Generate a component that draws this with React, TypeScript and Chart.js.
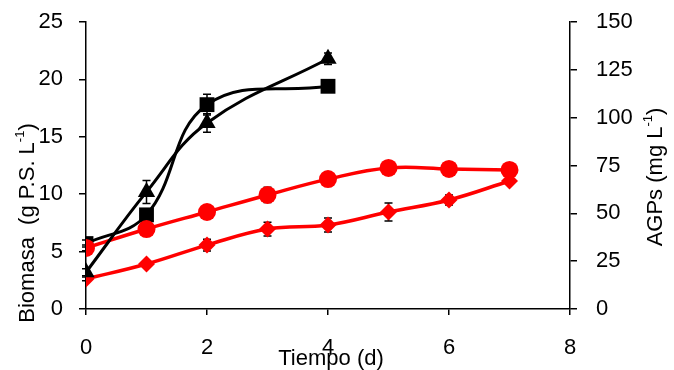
import React, { useEffect, useRef } from 'react';
import { Chart, registerables } from 'chart.js';
Chart.register(...registerables);

// Biomass (left axis, g P.S. L-1)
const squareDays = [0, 1, 2, 4];
const squareValues = [5.7, 8.2, 17.8, 19.4];
const squareErr = [0.3, 0.5, 0.9, 0.4];

const triangleDays = [0, 1, 2, 4];
const triangleValues = [3.2, 10.2, 16.2, 21.8];
const triangleErr = [0.3, 1.0, 0.8, 0.5];

// AGPs (right axis, mg L-1)
const circleDays = [0, 1, 2, 3, 4, 5, 6, 7];
const circleValues = [31.9, 41.8, 50.7, 59.6, 67.9, 73.7, 73.2, 72.7];
const circleErr = [1.5, 1, 1, 4, 1, 1.5, 1.5, 1.5];

const diamondDays = [0, 1, 2, 3, 4, 5, 6, 7];
const diamondValues = [15.7, 23.5, 33.4, 41.8, 43.9, 50.7, 57.0, 66.9];
const diamondErr = [1, 1, 3.1, 3.6, 3.6, 4.7, 2.6, 1];

const xTicks = [0, 2, 4, 6, 8];
const leftTicks = [0, 5, 10, 15, 20, 25];
const rightTicks = [0, 25, 50, 75, 100, 125, 150];

const FONT = '"Liberation Sans", Arial, sans-serif';
const FS = 22;

const pts = (xs: number[], ys: number[]) => xs.map((x, i) => ({ x, y: ys[i] }));

type Part = { t: string; sup?: boolean };

function drawTitle(ctx: CanvasRenderingContext2D, parts: Part[], cx: number, cy: number, rot: number) {
  ctx.save();
  ctx.translate(cx, cy);
  ctx.rotate(rot);
  ctx.fillStyle = '#000';
  ctx.textBaseline = 'middle';
  ctx.textAlign = 'left';
  const supFs = Math.round(FS * 0.6);
  let total = 0;
  const widths = parts.map((p) => {
    ctx.font = `${p.sup ? supFs : FS}px ${FONT}`;
    const w = ctx.measureText(p.t).width;
    total += w;
    return w;
  });
  let x = -total / 2;
  parts.forEach((p, i) => {
    ctx.font = `${p.sup ? supFs : FS}px ${FONT}`;
    ctx.fillText(p.t, x, p.sup ? -FS * 0.35 : 0);
    x += widths[i];
  });
  ctx.restore();
}

const errorBarPlugin = {
  id: 'errorBars',
  beforeDatasetsDraw(chart: any) {
    const ctx = chart.ctx as CanvasRenderingContext2D;
    ctx.save();
    ctx.strokeStyle = '#000';
    ctx.lineWidth = 1.5;
    chart.data.datasets.forEach((ds: any, di: number) => {
      const meta = chart.getDatasetMeta(di);
      const scale = chart.scales[ds.yAxisID];
      const errs: number[] = ds.errors || [];
      meta.data.forEach((el: any, i: number) => {
        const v = ds.data[i].y;
        const e = errs[i] || 0;
        if (!e) return;
        const yTop = scale.getPixelForValue(v + e);
        const yBot = scale.getPixelForValue(v - e);
        const x = el.x;
        ctx.beginPath();
        ctx.moveTo(x, yTop);
        ctx.lineTo(x, yBot);
        ctx.moveTo(x - 4, yTop);
        ctx.lineTo(x + 4, yTop);
        ctx.moveTo(x - 4, yBot);
        ctx.lineTo(x + 4, yBot);
        ctx.stroke();
      });
    });
    ctx.restore();
  },
};

const titlePlugin = {
  id: 'axisTitles',
  afterDraw(chart: any) {
    const ctx = chart.ctx as CanvasRenderingContext2D;
    drawTitle(ctx, [{ t: 'Biomasa  (g P.S. L' }, { t: '-1', sup: true }, { t: ')' }], 28, 223, -Math.PI / 2);
    drawTitle(ctx, [{ t: 'AGPs (mg L' }, { t: '-1', sup: true }, { t: ')' }], 656, 177, -Math.PI / 2);
    drawTitle(ctx, [{ t: 'Tiempo (d)' }], 331, 359, 0);
  },
};

const zeroPad = (s: any) => {
  s.paddingTop = 0;
  s.paddingBottom = 0;
  s.paddingLeft = 0;
  s.paddingRight = 0;
};

export default function App() {
  const ref = useRef<HTMLCanvasElement>(null);
  useEffect(() => {
    const canvas = ref.current!;
    const axisCommon = {
      border: { display: true, color: '#000', width: 1.5 },
      ticks: { color: '#000', font: { family: FONT, size: FS } },
    };
    const chart = new Chart(canvas, {
      type: 'line',
      data: {
        datasets: [
          {
            label: 'triangle',
            data: pts(triangleDays, triangleValues),
            errors: triangleErr,
            yAxisID: 'y',
            borderColor: '#000',
            backgroundColor: '#000',
            borderWidth: 3,
            pointStyle: 'triangle',
            pointRadius: 10,
            pointBorderWidth: 0,
            tension: 0.4,
            order: 0,
          } as any,
          {
            label: 'circle',
            data: pts(circleDays, circleValues),
            errors: circleErr,
            yAxisID: 'y1',
            borderColor: '#ff0000',
            backgroundColor: '#ff0000',
            borderWidth: 3.5,
            pointStyle: 'circle',
            pointRadius: 9,
            pointBorderWidth: 0,
            tension: 0.4,
            order: 1,
          } as any,
          {
            label: 'diamond',
            data: pts(diamondDays, diamondValues),
            errors: diamondErr,
            yAxisID: 'y1',
            borderColor: '#ff0000',
            backgroundColor: '#ff0000',
            borderWidth: 3.5,
            pointStyle: 'rectRot',
            pointRadius: 8.5,
            pointBorderWidth: 0,
            tension: 0.4,
            order: 2,
          } as any,
          {
            label: 'square',
            data: pts(squareDays, squareValues),
            errors: squareErr,
            yAxisID: 'y',
            borderColor: '#000',
            backgroundColor: '#000',
            borderWidth: 3,
            pointStyle: 'rect',
            pointRadius: 10.5,
            pointBorderWidth: 0,
            tension: 0.4,
            order: 3,
          } as any,
        ],
      },
      options: {
        animation: false,
        responsive: false,
        devicePixelRatio: 1,
        layout: { padding: { top: 22, left: 0, right: 0, bottom: 0 } },
        plugins: { legend: { display: false }, tooltip: { enabled: false } },
        scales: {
          x: {
            type: 'linear',
            min: 0,
            max: 8,
            afterBuildTicks: (s: any) => { s.ticks = xTicks.map((v) => ({ value: v })); },
            afterFit: (s: any) => { s.height = 61; zeroPad(s); },
            grid: { display: true, drawOnChartArea: false, drawTicks: true, tickLength: 6, color: '#000', lineWidth: 1.5 },
            ...axisCommon,
            ticks: { ...axisCommon.ticks, padding: 20, maxRotation: 0 },
          },
          y: {
            type: 'linear',
            position: 'left',
            min: 0,
            max: 25,
            afterBuildTicks: (s: any) => { s.ticks = leftTicks.map((v) => ({ value: v })); },
            afterFit: (s: any) => { s.width = 86; zeroPad(s); },
            grid: { display: true, drawOnChartArea: false, drawTicks: true, tickLength: 7, color: '#000', lineWidth: 1.5 },
            ...axisCommon,
            ticks: { ...axisCommon.ticks, padding: 16 },
          },
          y1: {
            type: 'linear',
            position: 'right',
            min: 0,
            max: 150,
            afterBuildTicks: (s: any) => { s.ticks = rightTicks.map((v) => ({ value: v })); },
            afterFit: (s: any) => { s.width = 104; zeroPad(s); },
            grid: { display: true, drawOnChartArea: false, drawTicks: true, tickLength: 7, color: '#000', lineWidth: 1.5 },
            ...axisCommon,
            ticks: { ...axisCommon.ticks, padding: 19 },
          },
        },
      } as any,
      plugins: [errorBarPlugin, titlePlugin],
    });
    return () => chart.destroy();
  }, []);
  return (
    <div style={{ position: 'fixed', left: 0, top: 0, width: 674, height: 370, background: '#fff' }}>
      <canvas ref={ref} width={674} height={370} style={{ display: 'block' }} />
    </div>
  );
}
